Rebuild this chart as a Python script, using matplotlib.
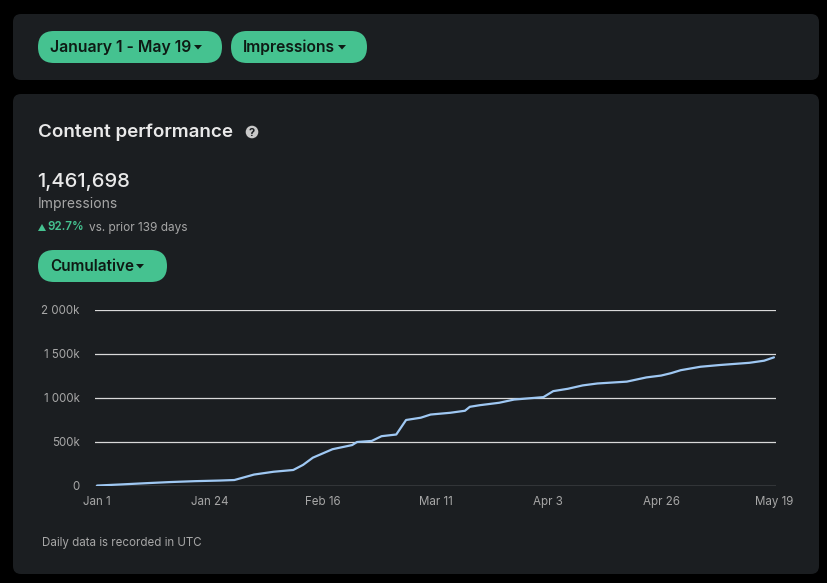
import matplotlib.pyplot as plt
import matplotlib.dates as mdates
from matplotlib.patches import FancyBboxPatch, Circle
import numpy as np

plt.rcParams['font.family'] = ['Inter', 'DejaVu Sans']

dates = ["2023-01-01", "2023-01-06", "2023-01-11", "2023-01-16", "2023-01-21",
         "2023-01-26", "2023-01-29", "2023-02-02", "2023-02-06", "2023-02-10",
         "2023-02-12", "2023-02-14", "2023-02-16", "2023-02-18", "2023-02-22",
         "2023-02-23", "2023-02-26", "2023-02-28", "2023-03-03", "2023-03-05",
         "2023-03-08", "2023-03-10", "2023-03-14", "2023-03-17", "2023-03-18",
         "2023-03-20", "2023-03-24", "2023-03-27", "2023-04-02", "2023-04-04",
         "2023-04-07", "2023-04-10", "2023-04-13", "2023-04-19", "2023-04-23",
         "2023-04-26", "2023-04-28", "2023-04-30", "2023-05-04", "2023-05-08",
         "2023-05-14", "2023-05-17", "2023-05-19"]
impressions_k = [5, 18, 32, 45, 55,
                 62, 68, 130, 162, 182,
                 240, 322, 370, 418, 465,
                 500, 512, 566, 585, 750,
                 776, 812, 832, 855, 900,
                 918, 946, 982, 1010, 1078,
                 1105, 1143, 1165, 1186, 1234,
                 1255, 1282, 1316, 1355, 1375,
                 1400, 1424, 1462]

x_ticks = ["2023-01-01", "2023-01-24", "2023-02-16", "2023-03-11",
           "2023-04-03", "2023-04-26", "2023-05-19"]
x_labels = ["Jan 1", "Jan 24", "Feb 16", "Mar 11", "Apr 3", "Apr 26", "May 19"]
y_ticks = [0, 500, 1000, 1500, 2000]
y_labels = ["0", "500k", "1 000k", "1 500k", "2 000k"]

W, H = 828, 583
BG = "#000000"
PANEL = "#1b1e21"
GREEN = "#45c290"
BTN_TXT = "#0e1a14"
WHITE = "#e9e9e9"
GREY = "#a7a7a7"

fig = plt.figure(figsize=(W / 100, H / 100), dpi=100, facecolor=BG)

# Calque de fond en coordonnées pixels
bg = fig.add_axes([0, 0, 1, 1])
bg.set_xlim(0, W)
bg.set_ylim(H, 0)
bg.axis("off")
bg.set_facecolor(BG)

def panneau(x0, y0, x1, y1, r=8):
    bg.add_patch(FancyBboxPatch((x0 + r, y0 + r), x1 - x0 - 2 * r, y1 - y0 - 2 * r,
                                boxstyle=f"round,pad={r}", fc=PANEL, ec="none"))

def bouton(x0, x1, yc, texte, tri_x, h=32):
    bg.add_patch(FancyBboxPatch((x0, yc - h / 2), x1 - x0, h,
                                boxstyle=f"round,pad=0,rounding_size={h / 2}",
                                fc=GREEN, ec="none"))
    t = bg.text(x0 + 12, yc + 0.5, texte, color=BTN_TXT, fontsize=12,
                fontweight="semibold", va="center", ha="left")
    # ajuste la taille pour que le texte finisse juste avant la flèche
    fig.canvas.draw()
    larg = t.get_window_extent().width
    t.set_fontsize(12 * (tri_x - 6 - (x0 + 12)) / larg)
    bg.fill([tri_x - 4, tri_x + 4, tri_x], [yc - 2, yc - 2, yc + 2.5],
            color=BTN_TXT, lw=0)

panneau(13, 14, 819, 80)
panneau(13, 94, 819, 574)

bouton(38, 222, 47, "January 1 - May 19", 198)
bouton(231, 367, 47, "Impressions", 342)
bouton(38, 167, 266, "Cumulative", 140)

bg.text(38, 132, "Content performance", color=WHITE, fontsize=13.5,
        fontweight="semibold", va="center", ha="left")
bg.add_patch(Circle((252, 132), 6.3, fc="#c9c9c9", ec="none"))
bg.text(252, 132.5, "?", color=PANEL, fontsize=8, fontweight="bold",
        ha="center", va="center")

bg.text(37, 182, "1,461,698", color=WHITE, fontsize=14.5, fontweight="medium",
        va="center", ha="left")
bg.text(38, 204, "Impressions", color=GREY, fontsize=10, va="center", ha="left")
bg.fill([38, 46, 42], [231, 231, 224], color=GREEN, lw=0)
bg.text(47, 227.5, "92.7%", color=GREEN, fontsize=8.3, fontweight="semibold",
        va="center", ha="left")
bg.text(89, 227.5, "vs. prior 139 days", color=GREY, fontsize=8.5,
        va="center", ha="left")

bg.text(42, 543, "Daily data is recorded in UTC", color=GREY, fontsize=8.3,
        va="center", ha="left")

# Graphique
x = np.array(dates, dtype="datetime64[D]")
xt = np.array(x_ticks, dtype="datetime64[D]")

ax = fig.add_axes([95 / W, (H - 486) / H, (776 - 95) / W, 176 / H])
ax.set_facecolor("none")
ax.plot(x, impressions_k, color="#9fc8f3", lw=1.6, solid_capstyle="round", zorder=3)

x0 = np.datetime64("2023-01-01") - np.timedelta64(10, "h")
x1 = np.datetime64("2023-05-19") + np.timedelta64(10, "h")
ax.set_xlim(mdates.date2num(x0), mdates.date2num(x1))
ax.set_ylim(0, 2000)
ax.set_xticks(xt)
ax.set_xticklabels(x_labels)
ax.set_yticks(y_ticks)
ax.set_yticklabels(y_labels)
ax.grid(axis="y", color="#d9d9d9", lw=0.9)
ax.tick_params(length=0, colors=GREY, labelsize=8.3)
ax.tick_params(axis="y", pad=11)
ax.tick_params(axis="x", pad=7)
for s in ax.spines.values():
    s.set_visible(False)
ax.set_axisbelow(True)

fig.savefig("out.png", dpi=100, facecolor=BG)
